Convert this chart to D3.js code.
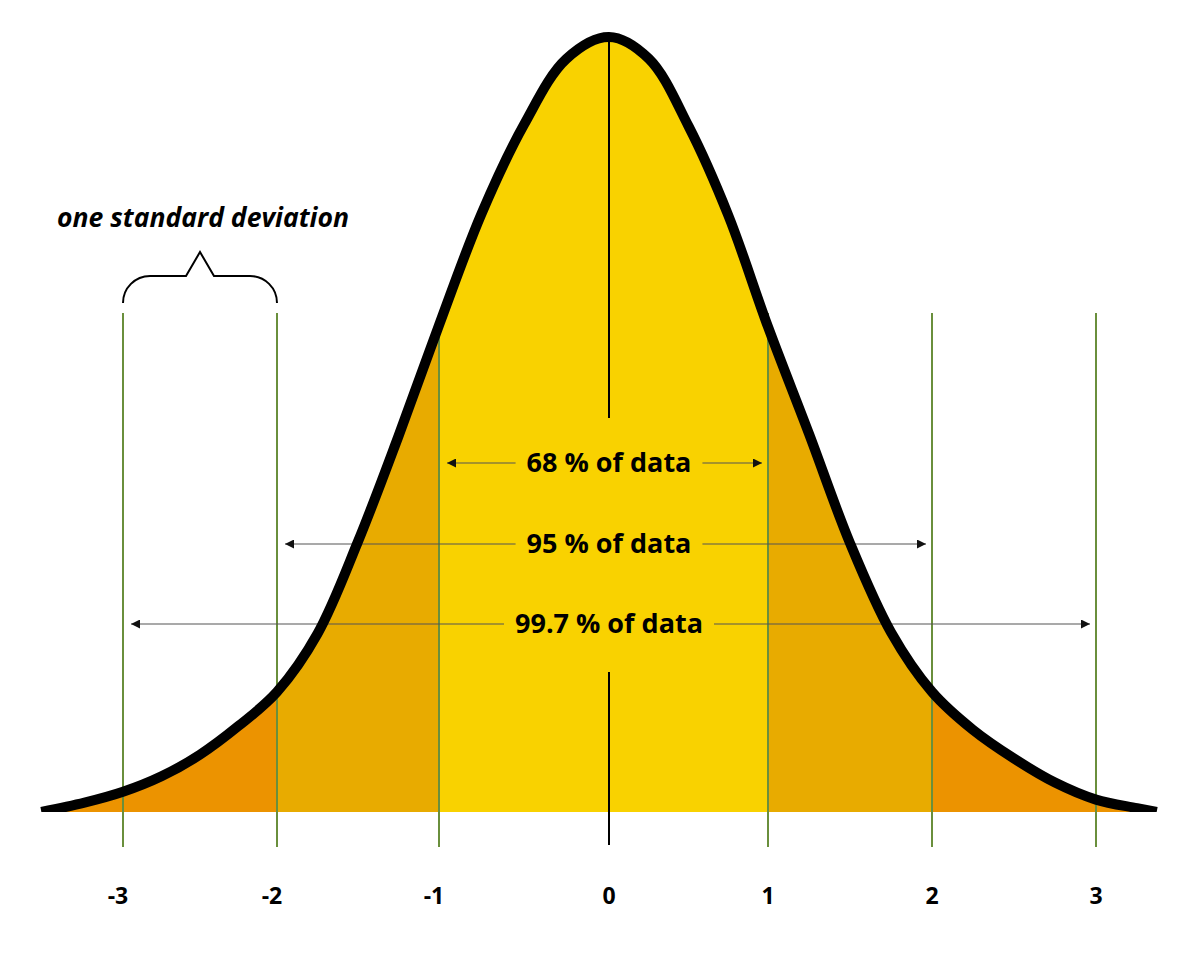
<!DOCTYPE html>
<html>
<head>
<meta charset="utf-8">
<script src="https://cdn.jsdelivr.net/npm/d3@7"></script>
<style>
  body { margin: 0; background: #fff; }
  svg { display: block; font-family: "Open Sans", "Noto Sans", sans-serif; }
</style>
</head>
<body>
<svg id="chart" width="1200" height="959"></svg>
<script>
// standard deviations on the axis and their labels
var sdTicks = [-3, -2, -1, 0, 1, 2, 3];
var tickLabels = ["-3", "-2", "-1", "0", "1", "2", "3"];

// bell curve: x in sd, height relative to the peak
var curveX = [-3.53, -3.25, -3.0, -2.75, -2.5, -2.25, -2.0, -1.75, -1.5, -1.25, -1.0, -0.75, -0.5, -0.25, 0,
              0.25, 0.5, 0.75, 1.0, 1.25, 1.5, 1.75, 2.0, 2.25, 2.5, 2.75, 3.0, 3.25, 3.37];
var curveH = [0, 0.012, 0.026, 0.046, 0.074, 0.111, 0.155, 0.230, 0.349, 0.485, 0.628, 0.772, 0.887, 0.972, 1.0,
              0.972, 0.885, 0.770, 0.626, 0.488, 0.347, 0.232, 0.155, 0.106, 0.069, 0.038, 0.016, 0.005, 0];

// shaded bands (sd from / to)
var bandFrom = [-4, -2, -1];
var bandTo = [4, 2, 1];

// the three "% of data" spans
var spanLabels = ["68 % of data", "95 % of data", "99.7 % of data"];
var spanSd = [1, 2, 3];

var braceFrom = -3, braceTo = -2;
var braceLabel = "one standard deviation";

var svg = d3.select("#chart");

var x = d3.scaleLinear()
    .domain(sdTicks)
    .range([123, 277, 439, 609, 768, 932, 1096]);
var y = d3.scaleLinear()
    .domain([0, 1])
    .range([812, 37]);

var pts = curveX.map(function(d, i) { return [d, curveH[i]]; });

var area = d3.area()
    .x(function(d) { return x(d[0]); })
    .y0(y(0))
    .y1(function(d) { return y(d[1]); })
    .curve(d3.curveCatmullRom.alpha(0.5));
var line = d3.line()
    .x(function(d) { return x(d[0]); })
    .y(function(d) { return y(d[1]); })
    .curve(d3.curveCatmullRom.alpha(0.5));

var defs = svg.append("defs");
var bandColors = ["#ec9300", "#e8ab00", "#f9d200"];
bandFrom.forEach(function(f, i) {
    var lo = Math.max(f, -3.6), hi = Math.min(bandTo[i], 3.6);
    defs.append("clipPath").attr("id", "band" + i)
        .append("rect")
        .attr("x", x(lo)).attr("y", 0)
        .attr("width", x(hi) - x(lo)).attr("height", 959);
});
defs.append("clipPath").attr("id", "above")
    .append("rect").attr("x", 0).attr("y", 0).attr("width", 1200).attr("height", y(0));

defs.append("marker")
    .attr("id", "tip")
    .attr("viewBox", "0 0 10 10")
    .attr("refX", 10).attr("refY", 5)
    .attr("markerUnits", "userSpaceOnUse")
    .attr("markerWidth", 10).attr("markerHeight", 9)
    .attr("orient", "auto-start-reverse")
    .append("path")
    .attr("d", "M0,0 L10,5 L0,10 Z")
    .attr("fill", "#111");

bandColors.forEach(function(c, i) {
    svg.append("path")
        .datum(pts)
        .attr("clip-path", "url(#band" + i + ")")
        .attr("fill", c)
        .attr("d", area);
});

// green sd lines
svg.selectAll("line.sd")
    .data(sdTicks.filter(function(d) { return d !== 0; }))
    .enter().append("line")
    .attr("class", "sd")
    .attr("x1", function(d) { return x(d); })
    .attr("x2", function(d) { return x(d); })
    .attr("y1", 313).attr("y2", 847)
    .attr("stroke", "#6a8f3c")
    .attr("stroke-width", 2);

// mean line, broken around the labels
[[y(1), 418], [672, 845]].forEach(function(s) {
    svg.append("line")
        .attr("x1", x(0)).attr("x2", x(0))
        .attr("y1", s[0]).attr("y2", s[1])
        .attr("stroke", "#000")
        .attr("stroke-width", 2);
});

// spans with arrows
var rowY = [463, 544, 624];
spanLabels.forEach(function(lab, i) {
    var t = svg.append("text")
        .attr("x", x(0)).attr("y", rowY[i] + 9)
        .attr("text-anchor", "middle")
        .attr("font-size", 27)
        .attr("font-weight", 700)
        .attr("fill", "#000")
        .text(lab);
    var half = t.node().getComputedTextLength() / 2 + 11;
    var l = x(-spanSd[i]) + 8, r = x(spanSd[i]) - 6;
    [[x(0) - half, l], [x(0) + half, r]].forEach(function(s) {
        svg.append("line")
            .attr("x1", s[0]).attr("x2", s[1])
            .attr("y1", rowY[i]).attr("y2", rowY[i])
            .attr("stroke", "#555")
            .attr("stroke-width", 1.2)
            .attr("marker-end", "url(#tip)");
    });
});

// the curve itself
svg.append("path")
    .datum(pts)
    .attr("clip-path", "url(#above)")
    .attr("fill", "none")
    .attr("stroke", "#000")
    .attr("stroke-width", 10)
    .attr("stroke-linejoin", "round")
    .attr("d", line);

// brace over one sd
var bx0 = x(braceFrom), bx1 = x(braceTo), bm = (bx0 + bx1) / 2;
var p = d3.path();
p.moveTo(bx0, 303);
p.arcTo(bx0, 276, bx0 + 27, 276, 27);
p.lineTo(bm - 14, 276);
p.lineTo(bm, 252);
p.lineTo(bm + 14, 276);
p.lineTo(bx1 - 27, 276);
p.arcTo(bx1, 276, bx1, 303, 27);
p.lineTo(bx1, 303);
svg.append("path")
    .attr("d", p.toString())
    .attr("fill", "none")
    .attr("stroke", "#000")
    .attr("stroke-width", 2);

svg.append("text")
    .attr("x", 57).attr("y", 227)
    .attr("font-size", 26)
    .attr("font-weight", 700)
    .attr("font-style", "italic")
    .attr("textLength", 292)
    .attr("lengthAdjust", "spacingAndGlyphs")
    .attr("fill", "#000")
    .text(braceLabel);

// axis labels
svg.selectAll("text.tick")
    .data(sdTicks)
    .enter().append("text")
    .attr("class", "tick")
    .attr("x", function(d) { return x(d) + (d < 0 ? -5 : 0); })
    .attr("y", 904)
    .attr("text-anchor", "middle")
    .attr("font-size", 23)
    .attr("font-weight", 700)
    .attr("fill", "#000")
    .text(function(d, i) { return tickLabels[i]; });
</script>
</body>
</html>
